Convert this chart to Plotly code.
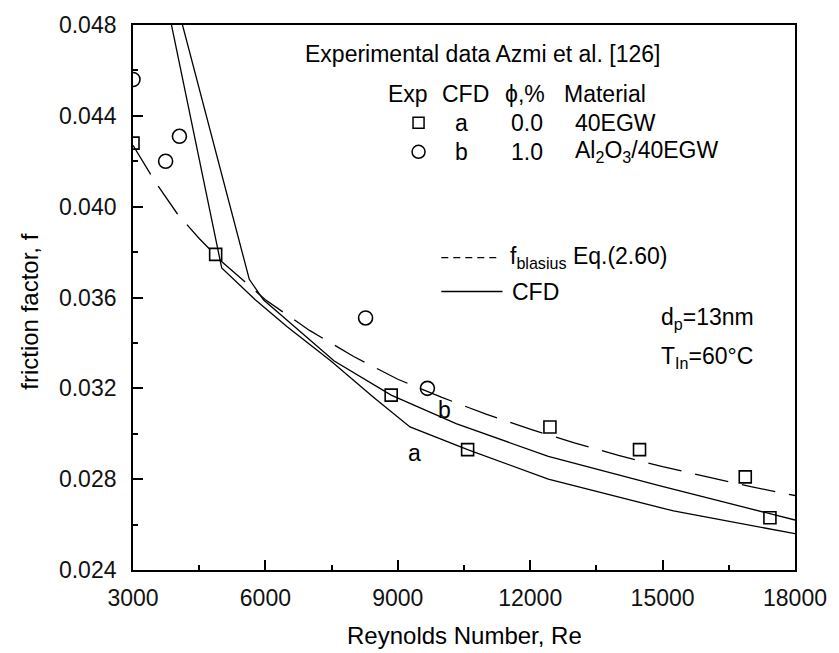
import plotly.graph_objects as go

# ---------------- data ----------------
re_cfd_a = [3000, 5010, 5770, 6500, 7485, 8455, 9276, 10582, 12410, 15246, 18000]
f_cfd_a = [0.0562, 0.0373, 0.0359, 0.0347, 0.0332, 0.0316, 0.0303, 0.0293, 0.0280, 0.0266, 0.0256]

re_cfd_b = [3000, 5635, 5955, 7560, 8850, 10321, 12410, 14946, 18000]
f_cfd_b = [0.0563, 0.0368, 0.0359, 0.0332, 0.0317, 0.03045, 0.0290, 0.0277, 0.0262]

re_blasius = [3000, 3500, 4000, 4500, 5000, 6000, 7000, 8000, 9000, 10000,
              11000, 12000, 13000, 14000, 15000, 16000, 17000, 18000]
f_blasius = [0.0427, 0.0411, 0.0397, 0.0386, 0.0376, 0.0359, 0.03455, 0.0334, 0.0324, 0.0316,
             0.03086, 0.0302, 0.0296, 0.02905, 0.02855, 0.0281, 0.02767, 0.02728]

re_exp_a = [3000, 4873, 8850, 10582, 12447, 14477, 16873, 17432]
f_exp_a = [0.0428, 0.0379, 0.0317, 0.0293, 0.0303, 0.0293, 0.0281, 0.0263]

re_exp_b = [3000, 3739, 4052, 8270, 9671]
f_exp_b = [0.0456, 0.0420, 0.0431, 0.0351, 0.0320]

x_ticks = [3000, 6000, 9000, 12000, 15000, 18000]
y_ticks = [0.024, 0.028, 0.032, 0.036, 0.040, 0.044, 0.048]

FONT = "Liberation Sans, Arial, sans-serif"
W, H = 839, 653
L, R, T, B = 133, 36, 24, 83
PW, PH = W - L - R, H - T - B


def px(xp):
    return (xp - L) / PW


def py(yp):
    return (H - B - yp) / PH


fig = go.Figure()

fig.add_trace(go.Scatter(x=re_blasius, y=f_blasius, mode="lines",
                         line=dict(color="black", width=1.3, dash="34px,14px"),
                         showlegend=False))
fig.add_trace(go.Scatter(x=re_cfd_a, y=f_cfd_a, mode="lines",
                         line=dict(color="black", width=1.3), showlegend=False))
fig.add_trace(go.Scatter(x=re_cfd_b, y=f_cfd_b, mode="lines",
                         line=dict(color="black", width=1.3), showlegend=False))
fig.add_trace(go.Scatter(x=re_exp_a, y=f_exp_a, mode="markers",
                         marker=dict(symbol="square-open", size=12, color="black",
                                     line=dict(width=1.6, color="black")),
                         showlegend=False))
fig.add_trace(go.Scatter(x=re_exp_b, y=f_exp_b, mode="markers",
                         marker=dict(symbol="circle-open", size=14, color="black",
                                     line=dict(width=1.6, color="black")),
                         showlegend=False))

axis_common = dict(
    showline=True, linecolor="black", linewidth=1.8, mirror=True,
    ticks="inside", ticklen=10, tickwidth=1.5, tickcolor="black",
    showgrid=False, zeroline=False,
    tickfont=dict(family=FONT, size=23, color="#111"),
)

fig.update_xaxes(range=[3000, 18000], tickvals=x_ticks, ticktext=[str(v) for v in x_ticks],
                 minor=dict(ticks="inside", ticklen=5, tickwidth=1.5, tickcolor="black", dtick=1500),
                 ticklabelstandoff=6, **axis_common)
fig.update_yaxes(range=[0.024, 0.048], tickvals=y_ticks, ticktext=[f"{v:.3f}" for v in y_ticks],
                 minor=dict(ticks="inside", ticklen=5, tickwidth=1.5, tickcolor="black", dtick=0.002),
                 ticklabelstandoff=10, **axis_common)

ann = []


def text(s, xp, yp, size=23, anchor="left"):
    ann.append(dict(text=s, x=px(xp), y=py(yp), xref="paper", yref="paper",
                    xanchor=anchor, yanchor="middle", showarrow=False,
                    font=dict(family=FONT, size=size, color="black")))


text("Experimental data Azmi et al. [126]", 305, 53)
text("Exp", 411, 93, anchor="center")
text("CFD", 470, 93, anchor="center")
text("ϕ,%", 530, 93, anchor="center")
text("Material", 567, 93)
text("a", 465, 122, anchor="center")
text("0.0", 532, 122, anchor="center")
text("40EGW", 578, 122)
text("b", 465, 151, anchor="center")
text("1.0", 532, 151, anchor="center")
text("Al<sub>2</sub>O<sub>3</sub>/40EGW", 578, 151)
text("f<sub>blasius</sub> Eq.(2.60)", 513, 257)
text("CFD", 515, 291)
text("d<sub>p</sub>=13nm", 665, 318)
text("T<sub>In</sub>=60°C", 665, 357)
text("a", 418, 453, anchor="center")
text("b", 448, 410, anchor="center")
text("Reynolds Number, Re", 468, 636, size=24, anchor="center")
ann.append(dict(text="friction factor, f", x=px(28), y=py(311), xref="paper", yref="paper",
                xanchor="center", yanchor="middle", showarrow=False, textangle=-90,
                font=dict(family=FONT, size=24, color="black")))

shapes = [
    dict(type="line", xref="paper", yref="paper", x0=px(445), x1=px(502), y0=py(257), y1=py(257),
         line=dict(color="black", width=1.3, dash="7px,5px")),
    dict(type="line", xref="paper", yref="paper", x0=px(445), x1=px(507), y0=py(291), y1=py(291),
         line=dict(color="black", width=1.3)),
    dict(type="rect", xref="paper", yref="paper", xsizemode="pixel", ysizemode="pixel",
         xanchor=px(422), yanchor=py(122), x0=-5.5, x1=5.5, y0=-5.5, y1=5.5,
         line=dict(color="black", width=1.5)),
    dict(type="circle", xref="paper", yref="paper", xsizemode="pixel", ysizemode="pixel",
         xanchor=px(422), yanchor=py(151), x0=-6.5, x1=6.5, y0=-6.5, y1=6.5,
         line=dict(color="black", width=1.5)),
]

fig.update_layout(
    width=W, height=H, autosize=False,
    margin=dict(l=L, r=R, t=T, b=B, pad=0),
    paper_bgcolor="white", plot_bgcolor="white",
    annotations=ann, shapes=shapes, showlegend=False,
)

fig.write_html(
    "out.html",
    config={"displayModeBar": False},
    post_script="document.body.style.margin='0px';document.body.style.padding='0px';"
                "document.documentElement.style.overflow='hidden';",
)
